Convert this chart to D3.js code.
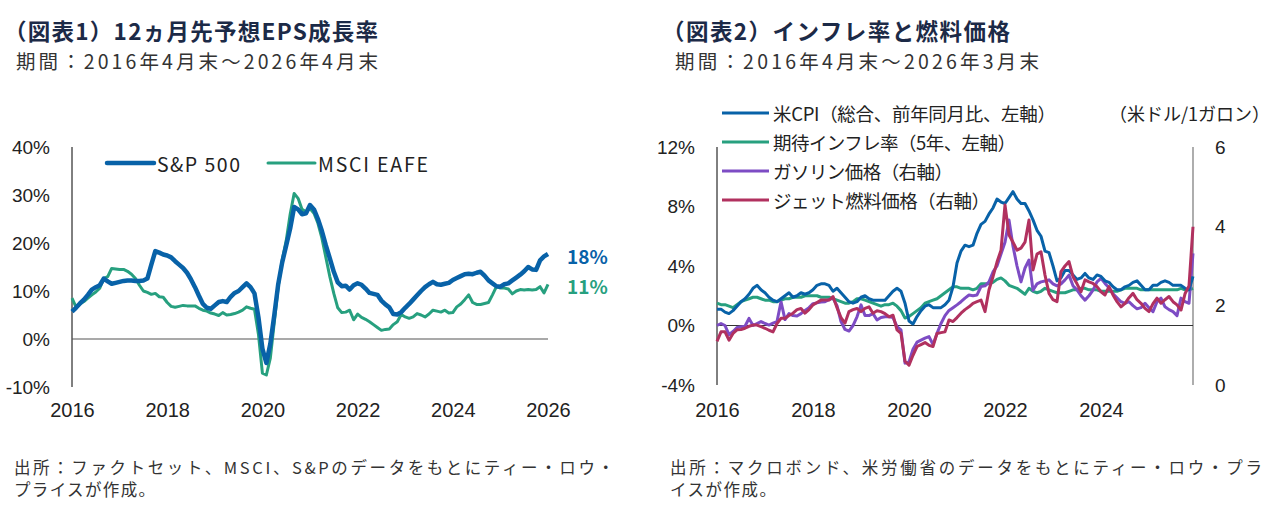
<!DOCTYPE html>
<html>
<head>
<meta charset="utf-8">
<script src="https://cdn.jsdelivr.net/npm/d3@7"></script>
<style>
  body { margin: 0; background: #fff; }
  svg { font-family: "Noto Sans CJK JP", "Noto Sans", sans-serif; }
</style>
</head>
<body>
<div id="chart-area"></div>
<script>
// ---- data: chart 1 (monthly, Apr 2016 - Apr 2026) ----
const sp500 = [5.7,6.5,7.4,8.2,9.2,10.3,10.8,11.2,12.6,12.0,11.5,11.7,11.9,12.1,12.2,12.2,12.1,12.1,12.2,12.6,
  15.5,18.3,18.0,17.6,17.4,17.0,16.2,15.5,14.8,13.8,12.4,10.8,9.0,7.3,6.5,6.3,7.0,7.7,7.9,7.7,
  8.8,9.6,10.0,10.8,11.6,10.8,9.5,4.5,-2.0,-5.0,-1.0,5.0,11.5,16.0,19.5,23.0,27.5,27.0,26.0,26.2,
  27.9,27.0,25.0,22.5,19.5,16.8,14.0,11.8,11.0,11.1,10.3,11.2,11.6,11.3,10.5,9.6,9.4,9.2,8.0,7.2,
  6.6,5.2,5.1,5.6,6.5,7.3,8.2,9.1,10.0,10.8,11.4,11.9,11.4,11.3,11.5,11.7,12.3,12.7,13.1,13.5,
  13.6,13.5,13.8,14.0,13.2,12.2,11.6,11.0,10.9,11.4,11.6,12.2,12.8,13.4,14.1,15.0,14.5,14.4,16.4,17.2,17.7]
const msciEafe = [8.5,6.7,7.3,7.8,8.5,9.2,9.8,10.6,12.6,13.0,14.7,14.6,14.5,14.5,14.1,13.5,12.6,11.2,10.0,9.7,
  9.3,9.5,8.8,8.7,7.6,6.8,6.6,6.8,7.0,6.9,6.9,6.9,6.4,6.0,5.8,5.4,5.2,4.9,5.5,5.0,
  5.1,5.3,5.6,6.0,6.7,6.4,6.2,1.0,-7.1,-7.5,-4.0,3.5,11.0,16.5,20.5,26.0,30.3,29.3,27.0,26.5,
  27.2,26.2,24.1,21.0,17.0,13.0,9.5,6.5,5.5,5.6,6.0,4.0,5.2,4.5,4.1,3.6,3.0,2.4,1.8,2.0,
  2.1,3.0,3.6,5.1,4.6,4.3,4.6,5.3,5.0,4.6,5.2,6.0,5.8,5.6,6.0,5.4,5.5,6.7,7.3,8.2,
  9.2,7.6,7.2,7.2,7.4,7.6,9.2,10.9,10.6,10.6,10.4,9.4,10.0,10.3,10.2,10.3,10.2,10.3,10.9,9.6,11.4]
const epsYearTicks = [0, 24, 48, 72, 96, 120]
const epsYearLabels = ["2016", "2018", "2020", "2022", "2024", "2026"]
const epsPctTicks = [-10, 0, 10, 20, 30, 40]

// ---- data: chart 2 (monthly, Apr 2016 - Mar 2026) ----
const cpi = [1.1,1.1,0.9,0.8,1.0,1.3,1.6,1.8,2.1,2.5,2.7,2.4,2.2,1.9,1.7,1.6,1.8,2.0,2.2,1.9,
  2.0,2.2,2.1,2.2,2.4,2.7,2.8,2.8,2.7,2.3,2.5,2.2,1.9,1.6,1.5,1.6,1.9,2.0,1.8,1.7,
  1.7,1.7,1.7,2.0,2.3,2.5,2.3,1.5,0.3,0.1,0.6,1.0,1.3,1.4,1.2,1.2,1.2,1.4,1.7,2.6,
  4.2,5.0,5.4,5.3,5.4,6.2,6.8,7.0,7.5,7.9,8.5,8.3,8.2,8.6,9.0,8.5,8.2,8.2,7.7,7.1,
  6.4,6.0,5.0,4.9,4.0,3.0,3.2,3.7,3.7,3.4,3.1,3.2,3.5,3.2,3.1,3.4,3.3,3.0,2.9,2.6,
  2.4,2.4,2.6,2.7,2.9,3.0,2.7,2.4,2.4,2.7,2.7,2.9,3.0,2.9,2.7,2.7,2.7,2.5,2.4,3.3]
const inflExp5y = [1.5,1.4,1.4,1.3,1.2,1.4,1.6,1.7,1.8,1.9,1.9,1.8,1.7,1.7,1.6,1.6,1.7,1.8,1.8,1.9,
  1.9,1.9,2.0,2.0,2.0,2.0,1.9,1.9,1.9,1.8,1.7,1.6,1.5,1.5,1.6,1.8,1.8,1.7,1.6,1.5,
  1.4,1.3,1.4,1.4,1.5,1.3,1.0,0.5,0.6,0.8,1.0,1.2,1.5,1.6,1.7,1.8,2.0,2.2,2.4,2.6,
  2.6,2.5,2.5,2.5,2.4,2.5,2.8,2.8,2.8,2.9,3.1,3.2,3.0,2.7,2.6,2.5,2.3,2.1,2.5,2.3,
  2.2,2.3,2.5,2.4,2.3,2.2,2.2,2.2,2.3,2.4,2.4,2.5,2.5,2.4,2.4,2.4,2.3,2.3,2.3,2.3,
  2.3,2.4,2.5,2.5,2.5,2.5,2.4,2.4,2.4,2.4,2.4,2.4,2.4,2.4,2.4,2.4,2.5,2.4,2.4,2.5]
const gasoline = [1.5,1.55,1.5,1.27,1.35,1.45,1.47,1.48,1.68,1.5,1.55,1.6,1.55,1.51,1.56,1.6,2.1,1.65,1.8,1.75,
  1.74,1.8,1.88,1.95,2.05,2.07,2.09,2.1,2.15,2.19,2.0,1.6,1.4,1.36,1.5,1.72,2.02,1.75,1.75,1.8,
  1.64,1.7,1.72,1.72,1.7,1.47,1.39,0.55,0.58,0.9,1.08,1.13,1.18,1.22,1.02,1.3,1.55,1.75,1.88,1.95,
  2.02,2.1,2.19,2.27,2.25,2.27,2.48,2.5,2.6,2.85,3.0,3.3,3.6,4.16,3.5,3.0,2.6,2.95,3.15,2.39,
  2.55,2.6,2.62,2.65,2.55,2.5,2.55,2.65,2.77,2.5,2.4,2.25,2.14,2.25,2.39,2.6,2.69,2.56,2.45,2.3,
  2.2,2.1,2.06,2.1,2.0,1.92,1.95,2.06,1.95,1.85,2.1,2.19,1.97,1.9,1.85,1.75,2.19,2.1,2.06,3.32]
const jetFuel = [1.1,1.34,1.34,1.13,1.3,1.39,1.4,1.43,1.48,1.51,1.51,1.47,1.43,1.38,1.34,1.55,1.68,1.68,1.75,1.81,
  1.9,1.93,1.81,1.9,2.02,2.08,2.14,2.14,2.14,2.23,1.95,1.7,1.56,1.85,1.9,1.93,1.85,1.93,1.97,1.81,
  1.87,1.85,1.8,1.72,1.76,1.39,1.3,0.6,0.5,0.75,0.97,1.02,1.07,1.0,0.97,1.3,1.32,1.34,1.64,1.6,
  1.7,1.81,1.9,1.97,2.06,2.1,2.14,1.85,2.4,2.73,3.1,3.4,4.54,3.78,3.6,3.4,3.45,3.6,4.16,2.9,
  3.3,3.36,2.77,2.31,2.15,2.1,2.86,3.0,3.11,2.73,2.55,2.35,2.65,2.6,2.56,2.48,2.35,2.27,2.48,2.27,
  2.1,1.97,2.06,2.2,2.31,2.15,2.06,1.93,1.85,2.05,2.19,2.06,2.15,2.23,2.1,2.02,1.89,2.3,2.5,3.99]
const fuelYearTicks = [0, 24, 48, 72, 96]
const fuelYearLabels = ["2016", "2018", "2020", "2022", "2024"]
const fuelPctTicks = [-4, 0, 4, 8, 12]
const fuelPriceTicks = [0, 2, 4, 6]

const COLORS = { blue: "#0862a8", green: "#27a07f", purple: "#7d4cc4", red: "#b1315f", navy: "#1c2a47", text: "#222" }

const svg = d3.select("#chart-area").append("svg")
  .attr("width", 1280)
  .attr("height", 513)

// titles (stretched to the widths in the original)
function titleBlock(x, title, tw, x2, sub, sw) {
  svg.append("text")
    .attr("x", x).attr("y", 40)
    .attr("font-size", "22.5px").attr("font-weight", "bold")
    .attr("fill", COLORS.navy)
    .attr("textLength", tw).attr("lengthAdjust", "spacing")
    .text(title)
  svg.append("text")
    .attr("x", x2).attr("y", 69)
    .attr("font-size", "19.5px")
    .attr("fill", "#333")
    .attr("textLength", sw).attr("lengthAdjust", "spacing")
    .text(sub)
}
titleBlock(4, "（図表1）12ヵ月先予想EPS成長率", 374, 16, "期間：2016年4月末～2026年4月末", 362)
titleBlock(662, "（図表2）インフレ率と燃料価格", 348, 675, "期間：2016年4月末～2026年3月末", 364)

// footnotes
function note(x, lines) {
  lines.forEach(([t, w], i) => {
    svg.append("text")
      .attr("x", x).attr("y", 474 + i * 22)
      .attr("font-size", "16.5px")
      .attr("fill", "#333")
      .attr("textLength", w).attr("lengthAdjust", "spacing")
      .text(t)
  })
}
note(14, [["出所：ファクトセット、MSCI、S&Pのデータをもとにティー・ロウ・", 600], ["プライスが作成。", 141]])
note(670, [["出所：マクロボンド、米労働省のデータをもとにティー・ロウ・プラ", 592], ["イスが作成。", 106]])

// ================= chart 1 =================
const x1 = d3.scaleLinear().domain([0, 120]).range([72, 548])
const y1 = d3.scaleLinear().domain([-10, 40]).range([387, 147])
const g1 = svg.append("g")

g1.append("g")
  .attr("transform", "translate(72,0)")
  .call(d3.axisLeft(y1).tickValues(epsPctTicks).tickFormat(d => d + "%").tickSize(0).tickPadding(22))
  .call(a => a.select(".domain").remove())
  .selectAll("text").attr("font-size", "19px").attr("fill", COLORS.text).attr("font-family", "inherit")

g1.append("g")
  .attr("transform", "translate(0,395)")
  .call(d3.axisBottom(x1).tickValues(epsYearTicks).tickFormat((d, i) => epsYearLabels[i]).tickSize(0).tickPadding(8))
  .call(a => a.select(".domain").remove())
  .selectAll("text").attr("font-size", "20px").attr("fill", COLORS.text).attr("font-family", "inherit")

g1.append("line")
  .attr("x1", 72).attr("x2", 72).attr("y1", y1(40)).attr("y2", y1(-10))
  .attr("stroke", "#000").attr("stroke-width", 1)
g1.append("line")
  .attr("x1", x1(0)).attr("x2", x1(120)).attr("y1", y1(0)).attr("y2", y1(0))
  .attr("stroke", "#555").attr("stroke-width", 1.2)

const line1 = d3.line().x((d, i) => x1(i)).y(d => y1(d))
g1.append("path").datum(msciEafe)
  .attr("d", line1).attr("fill", "none")
  .attr("stroke", COLORS.green).attr("stroke-width", 3).attr("stroke-linejoin", "round")
g1.append("path").datum(sp500)
  .attr("d", line1).attr("fill", "none")
  .attr("stroke", COLORS.blue).attr("stroke-width", 4.5).attr("stroke-linejoin", "round")

// end labels
g1.append("text").attr("x", 567).attr("y", y1(sp500[120]) + 1)
  .attr("dominant-baseline", "central")
  .attr("font-size", "19px").attr("font-weight", "bold").attr("fill", COLORS.blue)
  .text(Math.round(sp500[120]) + "%")
g1.append("text").attr("x", 567).attr("y", y1(msciEafe[120]) + 1)
  .attr("dominant-baseline", "central")
  .attr("font-size", "19px").attr("font-weight", "bold").attr("fill", COLORS.green)
  .text(Math.round(msciEafe[120]) + "%")

// legend
const leg1 = [
  { name: "S&P 500", color: COLORS.blue, w: 4.5, x: 107, tw: 83 },
  { name: "MSCI EAFE", color: COLORS.green, w: 3, x: 268, tw: 110 }
]
leg1.forEach(d => {
  g1.append("line").attr("x1", d.x).attr("x2", d.x + 47).attr("y1", 163).attr("y2", 163)
    .attr("stroke", d.color).attr("stroke-width", d.w).attr("stroke-linecap", "round")
  g1.append("text").attr("x", d.x + 50).attr("y", 163)
    .attr("dominant-baseline", "central")
    .attr("font-size", "19.5px").attr("fill", COLORS.text)
    .attr("textLength", d.tw).attr("lengthAdjust", "spacing")
    .text(d.name)
})

// ================= chart 2 =================
const x2 = d3.scaleLinear().domain([0, 119]).range([717, 1193])
const y2 = d3.scaleLinear().domain([-4, 12]).range([385, 147])
const y2r = d3.scaleLinear().domain([0, 6]).range([385, 147])
const g2 = svg.append("g")

g2.append("g")
  .attr("transform", "translate(717,0)")
  .call(d3.axisLeft(y2).tickValues(fuelPctTicks).tickFormat(d => d + "%").tickSize(0).tickPadding(22))
  .call(a => a.select(".domain").remove())
  .selectAll("text").attr("font-size", "19px").attr("fill", COLORS.text).attr("font-family", "inherit")

g2.append("g")
  .attr("transform", "translate(1193,0)")
  .call(d3.axisRight(y2r).tickValues(fuelPriceTicks).tickFormat(d3.format("d")).tickSize(0).tickPadding(22))
  .call(a => a.select(".domain").remove())
  .selectAll("text").attr("font-size", "19px").attr("fill", COLORS.text).attr("font-family", "inherit")

g2.append("g")
  .attr("transform", "translate(0,395)")
  .call(d3.axisBottom(x2).tickValues(fuelYearTicks).tickFormat((d, i) => fuelYearLabels[i]).tickSize(0).tickPadding(8))
  .call(a => a.select(".domain").remove())
  .selectAll("text").attr("font-size", "20px").attr("fill", COLORS.text).attr("font-family", "inherit")

g2.append("line")
  .attr("x1", 717).attr("x2", 717).attr("y1", y2(12)).attr("y2", y2(-4))
  .attr("stroke", "#000").attr("stroke-width", 1)
g2.append("line")
  .attr("x1", 1193).attr("x2", 1193).attr("y1", y2r(6)).attr("y2", y2r(0))
  .attr("stroke", "#777").attr("stroke-width", 1.2)
g2.append("line")
  .attr("x1", x2(0)).attr("x2", x2(119)).attr("y1", y2(0)).attr("y2", y2(0))
  .attr("stroke", "#333").attr("stroke-width", 1)

const lineL = d3.line().x((d, i) => x2(i)).y(d => y2(d))
const lineR = d3.line().x((d, i) => x2(i)).y(d => y2r(d))
const series2 = [
  { data: inflExp5y, gen: lineL, color: COLORS.green },
  { data: gasoline, gen: lineR, color: COLORS.purple },
  { data: cpi, gen: lineL, color: COLORS.blue },
  { data: jetFuel, gen: lineR, color: COLORS.red }
]
series2.forEach(s => {
  g2.append("path").datum(s.data)
    .attr("d", s.gen).attr("fill", "none")
    .attr("stroke", s.color).attr("stroke-width", 3).attr("stroke-linejoin", "round")
})

const leg2 = [
  { name: "米CPI（総合、前年同月比、左軸）", color: COLORS.blue, tw: 283 },
  { name: "期待インフレ率（5年、左軸）", color: COLORS.green, tw: 243 },
  { name: "ガソリン価格（右軸）", color: COLORS.purple, tw: 180 },
  { name: "ジェット燃料価格（右軸）", color: COLORS.red, tw: 217 }
]
leg2.forEach((d, i) => {
  const ly = 113 + i * 29
  g2.append("line").attr("x1", 722).attr("x2", 769).attr("y1", ly).attr("y2", ly)
    .attr("stroke", d.color).attr("stroke-width", 3)
  g2.append("text").attr("x", 773).attr("y", ly)
    .attr("dominant-baseline", "central")
    .attr("font-size", "18.5px").attr("fill", COLORS.text)
    .attr("textLength", d.tw).attr("lengthAdjust", "spacing")
    .text(d.name)
})
g2.append("text").attr("x", 1270).attr("y", 113)
  .attr("text-anchor", "end").attr("dominant-baseline", "central")
  .attr("font-size", "18px").attr("fill", COLORS.text)
  .text("（米ドル/1ガロン）")
</script>
</body>
</html>
